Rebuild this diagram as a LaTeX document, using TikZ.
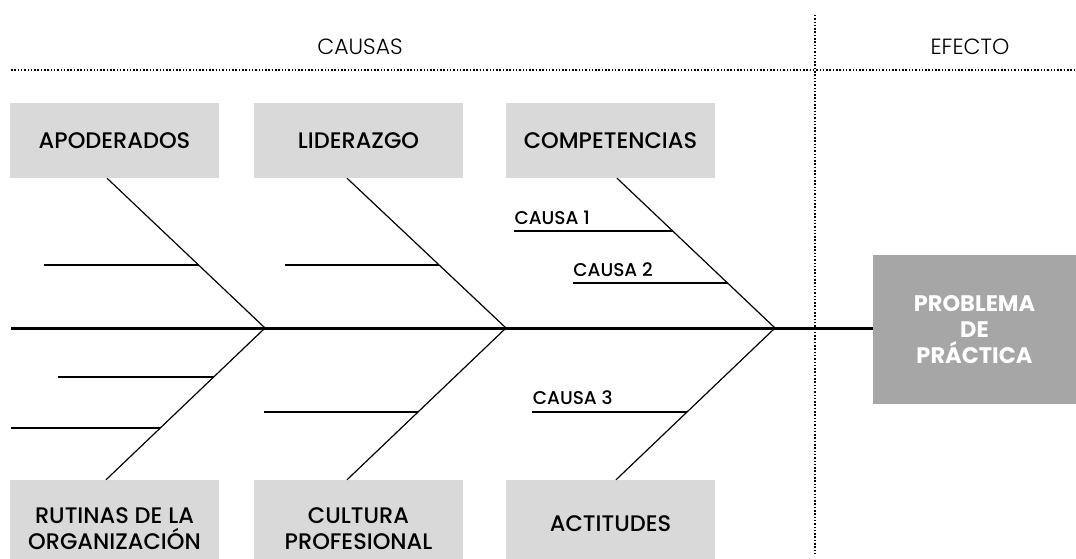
\documentclass[tikz,border=0pt]{standalone}
\usepackage{fontspec}
\setmainfont{Poppins}
\newfontfamily\mediumfont{Poppins Medium}
\newfontfamily\lightfont{Poppins Light}
\usepackage{tikz}

\definecolor{boxgray}{RGB}{217,217,217}
\definecolor{probgray}{RGB}{166,166,166}

\tikzset{
    BoxStyle/.style = {fill=boxgray, minimum width=209pt, minimum height=75pt, inner sep=0pt,
        align=center, font=\fontsize{22.5}{26}\selectfont\mediumfont},
    ProbStyle/.style = {fill=probgray, minimum width=203pt, minimum height=149pt, inner sep=0pt,
        align=center, text=white, font=\fontsize{22.5}{26}\selectfont\bfseries},
    HeadStyle/.style = {inner sep=0pt, text=black, font=\fontsize{22}{24}\selectfont\lightfont},
    CausaStyle/.style = {anchor=base west, inner sep=0pt, yshift=7pt, font=\fontsize{18.5}{20}\selectfont\mediumfont},
    DotStyle/.style = {line width=2pt, dash pattern=on 1.5pt off 1.8pt},
    SpineStyle/.style = {line width=3pt},
    BoneStyle/.style = {line width=1.2pt},
    RibStyle/.style = {line width=1.5pt}
}

\begin{document}
\begin{tikzpicture}[x=1pt,y=-1pt]
    \clip (0,0) rectangle (1076,559);

    \node[HeadStyle] (hCausas) at (360,47) {CAUSAS};
    \node[HeadStyle] (hEfecto) at (970,47) {EFECTO};
    \draw[DotStyle] (11,70) -- (1076,70);
    \draw[DotStyle] (815,15) -- (815,554);

    \node[BoxStyle] (apod) at (114.5,140.5) {APODERADOS};
    \node[BoxStyle] (lider) at (358.5,140.5) {LIDERAZGO};
    \node[BoxStyle] (compe) at (610.5,140.5) {COMPETENCIAS};
    \node[BoxStyle, minimum height=98pt] (rutin) at (114.5,529) {RUTINAS DE LA\\ORGANIZACIÓN};
    \node[BoxStyle, minimum height=98pt] (cultu) at (358.5,529) {CULTURA\\PROFESIONAL};
    \node[BoxStyle, minimum height=88pt] (actit) at (610.5,524) {ACTITUDES};
    \node[ProbStyle] (prob) at (974.5,329.5) {PROBLEMA\\DE\\PRÁCTICA};

    \coordinate (tail) at (11,328);
    \coordinate (j1) at (265,328);
    \coordinate (j2) at (506,328);
    \coordinate (j3) at (775,328);

    \draw[SpineStyle] (tail) -- (tail -| prob.west);

    \draw[BoneStyle] (j1) -- coordinate[pos=0.42] (r1) ([xshift=-7.5pt]apod.south);
    \draw[BoneStyle] (j2) -- coordinate[pos=0.42] (r2) ([xshift=-11.5pt]lider.south);
    \draw[BoneStyle] (j3) -- coordinate[pos=0.647] (r3) coordinate[pos=0.30] (r4) ([xshift=6.5pt]compe.south);
    \draw[BoneStyle] (j1) -- coordinate[pos=0.322] (r5) coordinate[pos=0.658] (r6) ([xshift=-8.5pt]rutin.north);
    \draw[BoneStyle] (j2) -- coordinate[pos=0.553] (r7) ([xshift=-11.5pt]cultu.north);
    \draw[BoneStyle] (j3) -- coordinate[pos=0.553] (r8) ([xshift=5.5pt]actit.north);

    \draw[RibStyle] (r1) -- ++(-155,0);
    \draw[RibStyle] (r2) -- ++(-154,0);
    \draw[RibStyle] (r3) -- ++(-159,0) node[CausaStyle] (causa1) {CAUSA 1};
    \draw[RibStyle] (r4) -- ++(-155,0) node[CausaStyle] (causa2) {CAUSA 2};
    \draw[RibStyle] (r5) -- ++(-156,0);
    \draw[RibStyle] (r6) -- ++(-149,0);
    \draw[RibStyle] (r7) -- ++(-154,0);
    \draw[RibStyle] (r8) -- ++(-155,0) node[CausaStyle] (causa3) {CAUSA 3};
\end{tikzpicture}
\end{document}
